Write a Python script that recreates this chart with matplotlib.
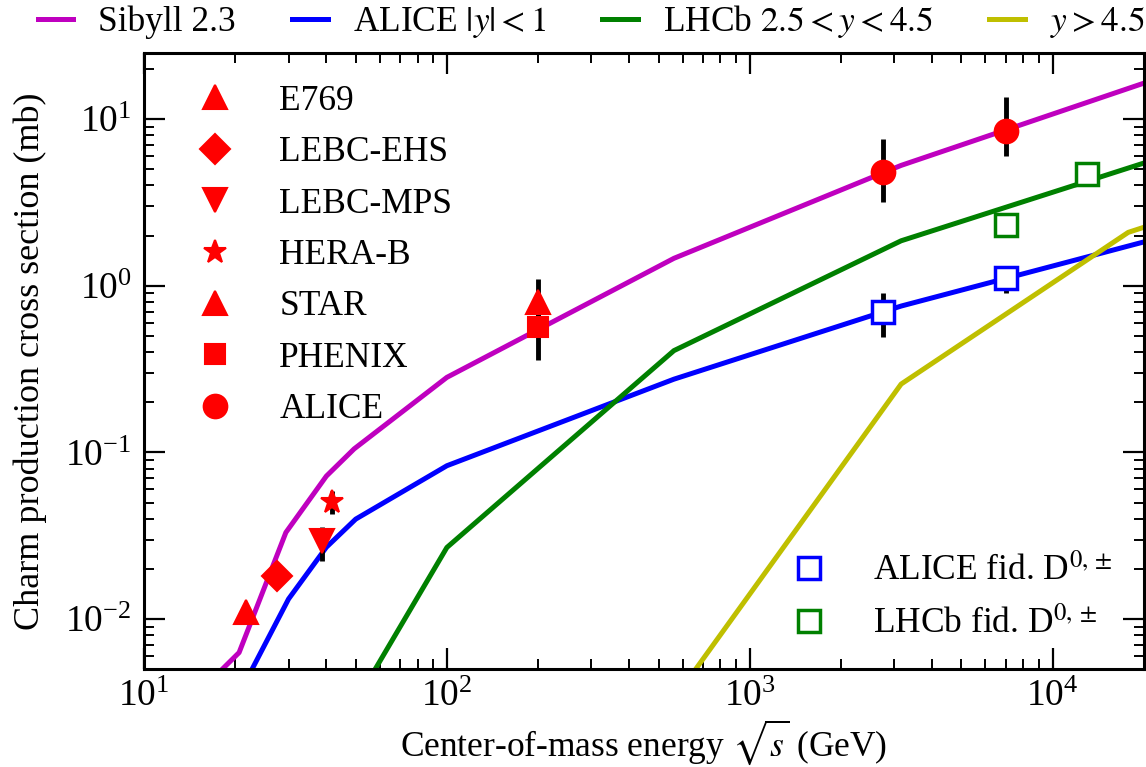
import matplotlib
matplotlib.use("Agg")
import matplotlib.pyplot as plt
from matplotlib.lines import Line2D

plt.rcParams["font.family"] = "serif"
plt.rcParams["font.serif"] = ["Liberation Serif", "DejaVu Serif"]
plt.rcParams["mathtext.fontset"] = "stix"
plt.rcParams["font.size"] = 25.5

# model curves (sqrt(s) in GeV, sigma_cc in mb)
sib_x = [17.5, 20.6, 29.4, 40, 49.4, 100, 562, 3162, 20000]
sib_y = [0.0047, 0.0063, 0.0331, 0.0721, 0.105, 0.282, 1.46, 5.27, 16.4]

mid_x = [20, 30, 40, 50, 100, 562, 3162, 20000]
mid_y = [0.0032, 0.0132, 0.027, 0.0398, 0.0832, 0.275, 0.755, 1.83]

lhcb_x = [56.2, 100, 562, 3162, 20000]
lhcb_y = [0.00455, 0.0269, 0.408, 1.86, 5.44]

fwd_x = [562, 3162, 17783, 20000]
fwd_y = [0.0033, 0.257, 2.09, 2.24]

# measurements: name, marker, sqrt(s), sigma, err low, err high
meas = [
    ("E769", "^", [21.7], [0.011], [0.0], [0.0]),
    ("LEBC-EHS", "D", [27.4], [0.0182], [0.0], [0.0]),
    ("LEBC-MPS", "v", [38.7], [0.0295], [0.0071], [0.006]),
    ("HERA-B", "*", [41.6], [0.0506], [0.008], [0.008]),
    ("STAR", "^", [200], [0.797], [0.3], [0.3]),
    ("PHENIX", "s", [200], [0.567], [0.21], [0.2]),
    ("ALICE", "o", [2760, 7000], [4.8, 8.5], [1.6, 2.5], [2.8, 5.1]),
]
msizes = {"^": 17, "D": 15, "v": 17, "*": 17, "s": 14, "o": 17}

alice_fid_x = [2760, 7000]
alice_fid_y = [0.70, 1.11]
alice_fid_lo = [0.21, 0.21]
alice_fid_hi = [0.21, 0.21]

lhcb_fid_x = [7000, 13000]
lhcb_fid_y = [2.31, 4.68]

fig = plt.figure(figsize=(11.46, 7.67), dpi=100)
ax = fig.add_axes([0.1257, 0.1274, 0.8723, 0.8039])

lw = 3.6
l1, = ax.plot(sib_x, sib_y, color=(0.75, 0, 0.75), lw=lw, label="Sibyll 2.3")
l2, = ax.plot(mid_x, mid_y, color="b", lw=lw, label=r"ALICE $|y|<1$")
l3, = ax.plot(lhcb_x, lhcb_y, color="g", lw=lw, label=r"LHCb $2.5<y<4.5$")
l4, = ax.plot(fwd_x, fwd_y, color=(0.75, 0.75, 0), lw=lw, label=r"$y>4.5$")

exp_handles = []
for name, mk, x, y, lo, hi in meas:
    ms = msizes[mk]
    if max(hi) > 0:
        ax.errorbar(x, y, yerr=[lo, hi], fmt="none", ecolor="k",
                    elinewidth=3.5, capsize=0, zorder=4)
    ax.plot(x, y, ls="none", marker=mk, ms=ms, mfc="r", mec="r",
            mew=1.5, zorder=5)
    exp_handles.append(Line2D([], [], ls="none", marker=mk, ms=ms,
                              mfc="r", mec="r", mew=1.5, label=name))

ax.errorbar(alice_fid_x, alice_fid_y, yerr=[alice_fid_lo, alice_fid_hi],
            fmt="none", ecolor="k", elinewidth=3.5, capsize=0, zorder=4)
ax.plot(alice_fid_x, alice_fid_y, ls="none", marker="s", ms=16,
        mfc="w", mec="b", mew=2.5, zorder=5)
ax.plot(lhcb_fid_x, lhcb_fid_y, ls="none", marker="s", ms=16,
        mfc="w", mec="g", mew=2.5, zorder=5)

fid_handles = [
    Line2D([], [], ls="none", marker="s", ms=16, mfc="w", mec="b", mew=2.5,
           label=r"ALICE fid. D$^{0,\pm}$"),
    Line2D([], [], ls="none", marker="s", ms=16, mfc="w", mec="g", mew=2.5,
           label=r"LHCb fid. D$^{0,\pm}$"),
]

ax.set_xscale("log")
ax.set_yscale("log")
ax.set_xlim(10, 2e4)
ax.set_ylim(5e-3, 25)

ax.set_xlabel(r"Center-of-mass energy $\sqrt{s}$ (GeV)", va="center")
ax.set_ylabel("Charm production cross section (mb)", va="center",
              fontsize=26)
ax.xaxis.set_label_coords(0.5, -0.119)
ax.yaxis.set_label_coords(-0.114, 0.5)

for s in ax.spines.values():
    s.set_linewidth(2.2)
ax.tick_params(which="both", direction="in", top=True, right=True)
ax.tick_params(which="major", length=15, width=1.6, labelsize=27)
ax.tick_params(axis="x", which="major", pad=7)
ax.tick_params(axis="y", which="major", pad=9)
ax.tick_params(which="minor", length=7, width=1.4)

leg1 = ax.legend(handles=exp_handles, loc="upper left",
                 bbox_to_anchor=(0.036, 0.948), frameon=False,
                 borderaxespad=0, borderpad=0, handlelength=2.0,
                 handletextpad=0.8, labelspacing=0.52, numpoints=1)
ax.add_artist(leg1)
ax.legend(handles=fid_handles, loc="upper left",
          bbox_to_anchor=(0.630, 0.188), frameon=False,
          borderaxespad=0, borderpad=0, handlelength=2.0,
          handletextpad=0.8, labelspacing=0.52, numpoints=1)

fig.legend(handles=[l1, l2, l3, l4], loc="center",
           bbox_to_anchor=(0.516, 0.972), ncol=4, frameon=False,
           borderpad=0, borderaxespad=0,
           handlelength=1.0, handletextpad=0.7, columnspacing=1.6)

fig.savefig("out.png", dpi=100)
